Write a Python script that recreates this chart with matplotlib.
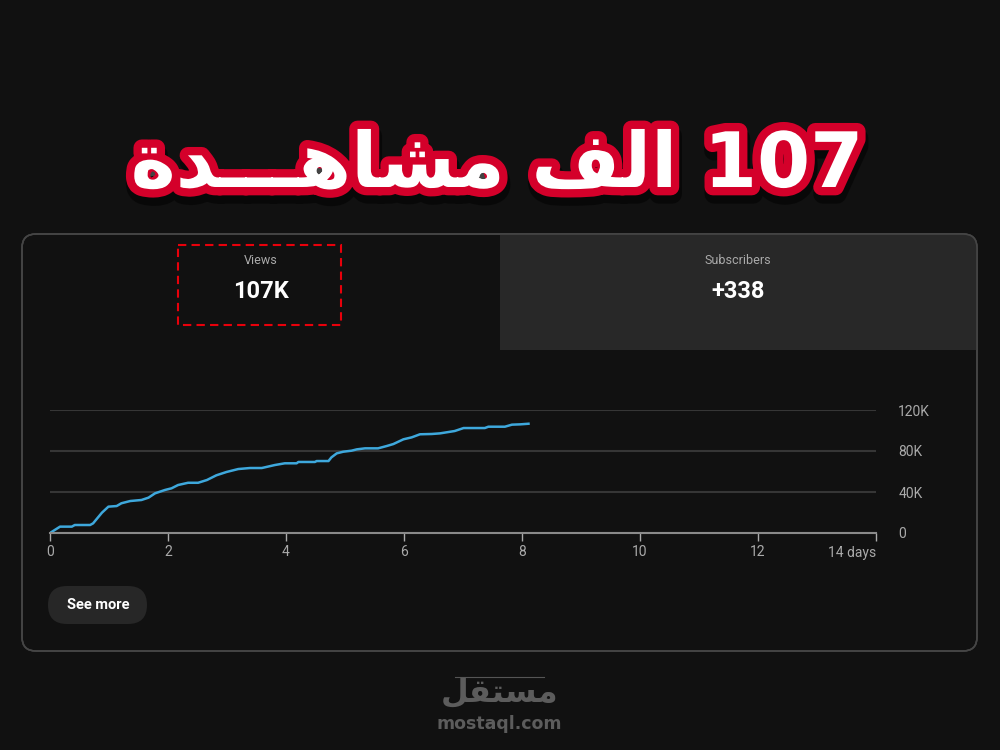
import matplotlib
matplotlib.use('Agg')
import matplotlib.pyplot as plt
import matplotlib.patheffects as pe
from matplotlib.patches import FancyBboxPatch, Rectangle

plt.rcParams['font.family'] = ['Roboto', 'DejaVu Sans']

# cumulative views (days since publish, views)
days = [0, 0.17, 0.37, 0.42, 0.68, 0.73, 0.88, 0.99, 1.13, 1.21, 1.36, 1.55, 1.67,
        1.78, 1.95, 2.06, 2.17, 2.34, 2.51, 2.66, 2.82, 2.99, 3.19, 3.39, 3.59, 3.81,
        3.98, 4.18, 4.21, 4.49, 4.52, 4.72, 4.77, 4.86, 4.97, 5.11, 5.20, 5.34, 5.56,
        5.71, 5.82, 5.99, 6.13, 6.27, 6.47, 6.61, 6.86, 7.01, 7.37, 7.43, 7.71, 7.83,
        7.97, 8.11]
views = [0, 6200, 6200, 7800, 7800, 9400, 19800, 25700, 26300, 29000, 31200, 32200,
         34500, 38700, 42000, 43600, 46800, 49000, 49000, 51700, 56300, 59500, 62400,
         63400, 63400, 66300, 68000, 68000, 69300, 69300, 70200, 70200, 73800, 77700,
         79300, 80300, 81600, 82600, 82600, 84900, 86800, 91400, 93300, 96300, 96600,
         97200, 99500, 102400, 102400, 103700, 103700, 105700, 106000, 106600]

x_ticks = [0, 2, 4, 6, 8, 10, 12, 14]
x_labels = ['0', '2', '4', '6', '8', '10', '12', '14 days']
y_ticks = [0, 40000, 80000, 120000]
y_labels = ['0', '40K', '80K', '120K']

title = '\uFE93\uFEAA\u0640\u0640\u0640\uFEEB\uFE8E\uFEB8\uFEE3 \uFED2\uFEDF\uFE8D 107'
logo = '\uFEDE\uFED8\uFE98\uFEB4\uFEE3'

bg = '#111111'
fig = plt.figure(figsize=(10, 7.5), dpi=100, facecolor=bg)

# background layer in pixel coordinates
lay = fig.add_axes([0, 0, 1, 1])
lay.set_xlim(0, 1000)
lay.set_ylim(750, 0)
lay.axis('off')

card = FancyBboxPatch((22, 234), 955, 417, boxstyle='round,pad=0,rounding_size=14',
                      facecolor=bg, edgecolor='#454545', lw=1.2)
lay.add_patch(card)
tab = Rectangle((500, 234), 477, 116, facecolor='#282828', edgecolor='none')
lay.add_patch(tab)
tab.set_clip_path(card)
lay.add_patch(FancyBboxPatch((22, 234), 955, 417, boxstyle='round,pad=0,rounding_size=14',
                             facecolor='none', edgecolor='#454545', lw=1.2))

lay.text(261, 261, 'Views', color='#aaaaaa', fontsize=9, ha='center', va='center')
lay.text(261, 291, '107K', color='white', fontsize=17, fontweight='bold', ha='center', va='center')
lay.text(738, 261, 'Subscribers', color='#aaaaaa', fontsize=9, ha='center', va='center')
lay.text(738, 291, '+338', color='white', fontsize=17, fontweight='bold', ha='center', va='center')
lay.add_patch(Rectangle((178, 245), 163, 80, fill=False, edgecolor='#e8000b', lw=1.5,
                        linestyle=(0, (4, 2.5))))

# see more button
lay.add_patch(FancyBboxPatch((48, 586), 99, 38, boxstyle='round,pad=0,rounding_size=19',
                             facecolor='#272727', edgecolor='none'))
lay.text(98, 605, 'See more', color='white', fontsize=10.5, fontweight='bold',
         ha='center', va='center')

# big title
lay.text(497, 166, title, color='white', fontsize=55, fontweight='bold',
         ha='center', va='center', family=['DejaVu Sans'],
         path_effects=[pe.Stroke(offset=(1, -5), linewidth=14, foreground='black', alpha=0.5),
                       pe.Stroke(linewidth=12, foreground='#d4002a'),
                       pe.Normal()])

# watermark
lay.plot([455, 544], [677, 677], color='#555555', lw=0.8)
lay.text(500, 693, logo, color='#5c5c5c', fontsize=23, fontweight='bold',
         ha='center', va='center', family=['DejaVu Sans'])
lay.text(499, 724, 'mostaql.com', color='#5c5c5c', fontsize=12.5, fontweight='bold',
         ha='center', va='center', family=['DejaVu Sans'])

# chart
ax = fig.add_axes([0.05, 1 - 533 / 750, 0.826, 123 / 750])
ax.set_facecolor('none')
ax.plot(days, views, color='#3ea8dc', lw=1.8, solid_joinstyle='round')
ax.set_xlim(0, 14)
ax.set_ylim(0, 120000)
for s in ['top', 'left', 'right']:
    ax.spines[s].set_visible(False)
ax.spines['bottom'].set_color('#8a8a8a')
ax.spines['bottom'].set_linewidth(1.5)
ax.set_xticks(x_ticks)
ax.set_xticklabels(x_labels)
ax.get_xticklabels()[-1].set_horizontalalignment('right')
ax.tick_params(axis='x', colors='#aaaaaa', length=6, width=1, labelsize=10, pad=3)
ax.yaxis.tick_right()
ax.set_yticks(y_ticks)
ax.set_yticklabels(y_labels)
ax.tick_params(axis='y', colors='#aaaaaa', length=0, labelsize=10, pad=16)
ax.grid(axis='y', color='#363636', lw=1.5)
ax.set_axisbelow(True)

fig.savefig('out.png', dpi=100, facecolor=bg)
